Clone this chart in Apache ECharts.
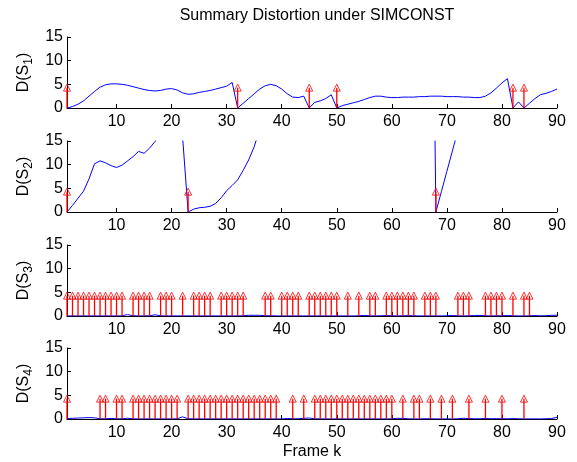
<!DOCTYPE html>
<html>
<head>
<meta charset="utf-8">
<script src="https://cdn.jsdelivr.net/npm/echarts@6/dist/echarts.min.js"></script>
<style>
html,body{margin:0;padding:0;background:#fff;}
#c{width:577px;height:462px;}
</style>
</head>
<body>
<div id="c"></div>
<script>
// ---- data ----
const frames = [1,2,3,4,5,6,7,8,9,10,11,12,13,14,15,16,17,18,19,20,21,22,23,24,25,26,27,28,29,30,
  31,32,33,34,35,36,37,38,39,40,41,42,43,44,45,46,47,48,49,50,51,52,53,54,55,56,57,58,59,60,
  61,62,63,64,65,66,67,68,69,70,71,72,73,74,75,76,77,78,79,80,81,82,83,84,85,86,87,88,89,90];

const d1 = [0,0.3,0.8,1.5,2.5,3.5,4.4,4.9,5.1,5.1,5.0,4.8,4.5,4.2,3.9,3.7,3.6,3.7,4.0,4.1,
  3.8,3.2,2.9,3.0,3.3,3.5,3.7,4.0,4.3,4.6,5.4,0,1.0,2.0,3.0,4.0,4.7,5.0,4.7,4.0,
  3.0,2.3,2.2,2.5,0,1.2,1.5,2.0,2.8,0,0.5,0.8,1.1,1.4,1.8,2.2,2.5,2.5,2.3,2.2,
  2.2,2.3,2.3,2.3,2.4,2.4,2.5,2.5,2.5,2.4,2.4,2.4,2.3,2.3,2.2,2.2,2.5,3.2,4.2,5.3,
  6.2,0,1.3,0,1.0,2.0,2.8,3.1,3.5,4.0];

const d2 = [0,1.4,2.9,4.4,7.0,10.2,10.8,10.4,9.8,9.4,9.9,10.8,11.7,12.8,12.4,13.5,14.9,18,null,null,
  null,15.8,0,0.6,0.9,1.0,1.2,1.8,3.0,4.5,5.6,6.8,8.8,11.0,13.8,17.5,null,null,null,null,
  null,null,null,null,null,null,null,null,null,null,null,null,null,null,null,null,null,null,null,null,
  null,null,null,null,null,null,100,0,4.3,8.6,12.9,17.2,null,null,null,null,null,null,null,null,
  null,null,null,null,null,null,null,null,null,null];

const d3 = [0.02,0.02,0.02,0.02,0.02,0.02,0.02,0.02,0.02,0.02,0.05,0.3,0.05,0.02,0.02,0.05,0.25,0.05,0.02,0.02,
  0.02,0.02,0.02,0.02,0.02,0.02,0.02,0.02,0.02,0.02,0.02,0.02,0.05,0.15,0.15,0.15,0.05,0.05,0.02,0.02,
  0.02,0.02,0.02,0.02,0.02,0.02,0.02,0.02,0.02,0.02,0.02,0.02,0.02,0.05,0.12,0.05,0.02,0.05,0.1,0.05,
  0.02,0.05,0.08,0.05,0.02,0.02,0.02,0.02,0.02,0.05,0.1,0.05,0.02,0.05,0.12,0.12,0.05,0.02,0.05,0.05,
  0.1,0.05,0.02,0.02,0.05,0.08,0.05,0.05,0.15,0.15];

const d4 = [0.1,0.15,0.2,0.25,0.3,0.25,0.05,0.05,0.12,0.05,0.05,0.15,0.05,0.02,0.02,0.02,0.02,0.02,0.02,0.02,
  0.05,0.45,0.05,0.02,0.02,0.02,0.02,0.02,0.02,0.02,0.02,0.02,0.02,0.02,0.02,0.02,0.02,0.02,0.02,0.02,
  0.1,0.05,0.05,0.15,0.2,0.05,0.02,0.02,0.02,0.02,0.02,0.02,0.02,0.02,0.02,0.02,0.02,0.02,0.02,0.05,
  0.15,0.12,0.05,0.02,0.02,0.05,0.05,0.02,0.02,0.02,0.02,0.05,0.15,0.1,0.05,0.05,0.12,0.05,0.08,0.05,
  0.05,0.08,0.05,0.02,0.02,0.02,0.02,0.05,0.1,0.35];

const arrowHeight = 4.3;
const a1 = [1,32,45,50,82,84];
const a2 = [1,23,68];
const a3 = [1,2,3,4,5,6,7,8,9,10,11,13,14,15,16,18,19,20,22,24,25,26,27,29,30,31,32,33,37,38,
  40,41,42,43,45,46,47,48,49,50,52,54,56,57,59,60,61,62,63,64,66,67,68,72,73,74,77,78,79,80,82,84,85];
const a4 = [1,7,8,10,11,13,14,15,16,17,18,19,20,21,23,24,25,26,27,28,29,30,31,32,33,34,35,36,37,38,39,
  42,44,46,47,48,49,50,51,52,53,54,55,56,57,58,59,60,62,64,65,67,69,71,74,77,80,84];

const xTicks = [10,20,30,40,50,60,70,80,90];
const yTicks = [0,5,10,15];
const yNames = ['1','2','3','4'];
const titleText = 'Summary Distortion under SIMCONST';
const xName = 'Frame k';

// ---- chart ----
const FONT = '"Liberation Sans", Arial, Helvetica, sans-serif';
const panels = [d1,d2,d3,d4];
const arrows = [a1,a2,a3,a4];
const tops = [37,141,245,348];
const H = 71;

const grids = [], xAxes = [], yAxes = [], series = [];
panels.forEach((vals, i) => {
  grids.push({left: 67, right: 20, top: tops[i], height: H, containLabel: false});
  xAxes.push({
    type: 'value', gridIndex: i, min: 1, max: 90,
    axisLine: {show: true, onZero: false, lineStyle: {color: '#000', width: 1}},
    axisTick: {show: true, inside: true, length: 4, customValues: xTicks, lineStyle: {color: '#000'}},
    axisLabel: {show: true, customValues: xTicks, fontSize: 16, color: '#000', fontFamily: FONT, margin: 6},
    splitLine: {show: false},
    name: i === 3 ? xName : '',
    nameLocation: 'middle', nameGap: 25,
    nameTextStyle: {fontSize: 16, color: '#000', fontFamily: FONT}
  });
  yAxes.push({
    type: 'value', gridIndex: i, min: 0, max: 15, interval: 5,
    axisLine: {show: true, lineStyle: {color: '#000', width: 1}},
    axisTick: {show: true, inside: true, length: 4, lineStyle: {color: '#000'}},
    axisLabel: {fontSize: 16, color: '#000', fontFamily: FONT, margin: 4,
      formatter: v => yTicks.indexOf(v) >= 0 ? String(v) : ''},
    splitLine: {show: false},
    name: '{a|D(S}{s|' + yNames[i] + '}{a|)}',
    nameLocation: 'middle', nameGap: 28, nameRotate: 90,
    nameTextStyle: {
      rich: {
        a: {fontSize: 16, fontFamily: FONT, color: '#000', lineHeight: 22, verticalAlign: 'middle'},
        s: {fontSize: 12, fontFamily: FONT, color: '#000', lineHeight: 12, verticalAlign: 'bottom'}
      }
    }
  });
  series.push({
    type: 'line', xAxisIndex: i, yAxisIndex: i,
    data: frames.map((f, j) => [f, vals[j]]),
    showSymbol: false, symbol: 'none', connectNulls: false, clip: true,
    lineStyle: {color: '#0000ff', width: 1}, z: 2, silent: true
  });
  series.push({
    type: 'bar', xAxisIndex: i, yAxisIndex: i,
    data: arrows[i].map(f => [f, arrowHeight]),
    barWidth: 1.3, itemStyle: {color: '#ff0000'}, z: 3, silent: true
  });
  series.push({
    type: 'scatter', xAxisIndex: i, yAxisIndex: i,
    data: arrows[i].map(f => [f, arrowHeight]),
    symbol: 'triangle', symbolSize: [7, 7],
    itemStyle: {color: 'rgba(255,255,255,0)', borderColor: '#ff0000', borderWidth: 1},
    z: 4, silent: true
  });
});

const chart = echarts.init(document.getElementById('c'), null, {renderer: 'canvas'});
chart.setOption({
  animation: false,
  backgroundColor: '#fff',
  title: {text: titleText, left: 312, top: 3, textAlign: 'center',
    textStyle: {fontSize: 16, fontWeight: 'normal', color: '#000', fontFamily: FONT}},
  grid: grids, xAxis: xAxes, yAxis: yAxes, series: series
});
</script>
</body>
</html>
